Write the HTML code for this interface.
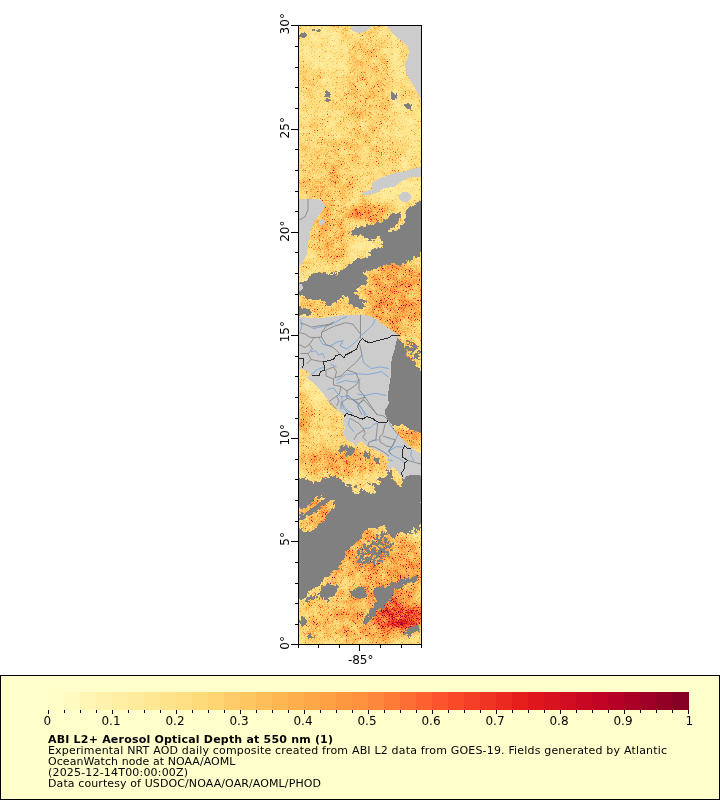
<!DOCTYPE html>
<html lang="en"><head><meta charset="utf-8"><title>ABI L2+ Aerosol Optical Depth at 550 nm</title>
<style>
html,body{margin:0;padding:0;background:#fff;}
body{width:720px;height:800px;overflow:hidden;position:relative;}
svg{position:absolute;left:0;top:0;display:block;}
text{font-family:"DejaVu Sans","Liberation Sans",sans-serif;fill:#000;}
.ax{font-size:12px;}
.lg{font-size:11px;}
.b{font-weight:bold;}
</style></head><body>
<svg width="720" height="800" viewBox="0 0 720 800">
<defs>
<clipPath id="mapclip"><rect x="299" y="26" width="122" height="618"/></clipPath>
<filter id="blur" filterUnits="userSpaceOnUse" x="280" y="10" width="160" height="650" color-interpolation-filters="sRGB"><feGaussianBlur stdDeviation="4"/></filter>
<filter id="cm" filterUnits="userSpaceOnUse" x="296" y="22" width="128" height="626" color-interpolation-filters="sRGB">
<feTurbulence type="fractalNoise" baseFrequency="1.37 1.43" numOctaves="1" seed="3"/>
<feColorMatrix type="matrix" values="1 0 0 0 0  1 0 0 0 0  1 0 0 0 0  0 0 0 0 1"/>
<feComponentTransfer result="mf"><feFuncR type="table" tableValues="0.200 0.200 0.200 0.200 0.200 0.200 0.200 0.210 0.225 0.237 0.250 0.270 0.305 0.362 0.475 0.650 0.800 0.850 0.850 0.850 0.850"/><feFuncG type="table" tableValues="0.200 0.200 0.200 0.200 0.200 0.200 0.200 0.210 0.225 0.237 0.250 0.270 0.305 0.362 0.475 0.650 0.800 0.850 0.850 0.850 0.850"/><feFuncB type="table" tableValues="0.200 0.200 0.200 0.200 0.200 0.200 0.200 0.210 0.225 0.237 0.250 0.270 0.305 0.362 0.475 0.650 0.800 0.850 0.850 0.850 0.850"/></feComponentTransfer>
<feTurbulence type="fractalNoise" baseFrequency="0.1" numOctaves="3" seed="5"/>
<feColorMatrix type="matrix" values="0.5 0 0 0 0.25  0.5 0 0 0 0.25  0.5 0 0 0 0.25  0 0 0 0 1" result="mc"/>
<feComposite in="SourceGraphic" in2="mf" operator="arithmetic" k1="4" k2="0" k3="0" k4="0" result="v1"/>
<feComposite in="v1" in2="mc" operator="arithmetic" k1="2" k2="0" k3="0" k4="0" result="v2"/>
<feColorMatrix in="v2" type="matrix" values="1 0 0 0 0  1 0 0 0 0  1 0 0 0 0  0 0 0 0 1"/>
<feComponentTransfer><feFuncR type="table" tableValues="1.000 1.000 0.996 0.996 0.992 0.988 0.890 0.741 0.502"/><feFuncG type="table" tableValues="1.000 0.929 0.851 0.698 0.553 0.306 0.102 0.000 0.000"/><feFuncB type="table" tableValues="0.800 0.627 0.463 0.298 0.235 0.165 0.110 0.149 0.149"/></feComponentTransfer>
</filter>
<filter id="jag" filterUnits="userSpaceOnUse" x="290" y="16" width="140" height="640" color-interpolation-filters="sRGB">
<feTurbulence type="fractalNoise" baseFrequency="0.22" numOctaves="2" seed="8" result="t"/>
<feDisplacementMap in="SourceGraphic" in2="t" scale="7" xChannelSelector="R" yChannelSelector="G"/>
</filter>
<filter id="spk" filterUnits="userSpaceOnUse" x="290" y="16" width="140" height="640" color-interpolation-filters="sRGB">
<feGaussianBlur in="SourceAlpha" stdDeviation="3" result="m"/>
<feTurbulence type="fractalNoise" baseFrequency="0.33" numOctaves="2" seed="21"/>
<feColorMatrix type="matrix" values="0 0 0 0 0  0 0 0 0 0  0 0 0 0 0  1 0 0 0 0" result="n"/>
<feComposite in="m" in2="n" operator="arithmetic" k1="2" k2="0" k3="0" k4="0" result="p"/>
<feComponentTransfer in="p"><feFuncA type="discrete" tableValues="0 0 0 0 0 1 1 1 1 1"/></feComponentTransfer>
<feColorMatrix type="matrix" values="0 0 0 0 0.502  0 0 0 0 0.502  0 0 0 0 0.502  0 0 0 1 0"/>
</filter>
<filter id="spk2" filterUnits="userSpaceOnUse" x="290" y="16" width="140" height="640" color-interpolation-filters="sRGB">
<feGaussianBlur in="SourceAlpha" stdDeviation="1" result="m"/>
<feTurbulence type="fractalNoise" baseFrequency="0.33" numOctaves="2" seed="33"/>
<feColorMatrix type="matrix" values="0 0 0 0 0  0 0 0 0 0  0 0 0 0 0  1 0 0 0 0" result="n"/>
<feComposite in="m" in2="n" operator="arithmetic" k1="2" k2="0" k3="0" k4="0" result="p"/>
<feComponentTransfer in="p"><feFuncA type="discrete" tableValues="0 0 0 0 0 1 1 1 1 1"/></feComponentTransfer>
<feColorMatrix type="matrix" values="0 0 0 0 0.502  0 0 0 0 0.502  0 0 0 0 0.502  0 0 0 1 0"/>
</filter>
</defs>
<rect x="0" y="0" width="720" height="800" fill="#ffffff"/>

<g clip-path="url(#mapclip)">
<g filter="url(#cm)">
<rect x="290" y="20" width="140" height="630" fill="#363636"/>
<g filter="url(#blur)">
<ellipse cx="322" cy="58" rx="22" ry="34" fill="#292929"/>
<ellipse cx="367" cy="88" rx="24" ry="50" fill="#444444"/>
<ellipse cx="312" cy="80" rx="12" ry="14" fill="#404040"/>
<ellipse cx="408" cy="132" rx="14" ry="30" fill="#2b2b2b"/>
<ellipse cx="397" cy="62" rx="8" ry="26" fill="#292929"/>
<ellipse cx="350" cy="150" rx="55" ry="16" fill="#424242"/>
<ellipse cx="328" cy="183" rx="32" ry="17" fill="#494949"/>
<ellipse cx="395" cy="192" rx="28" ry="12" fill="#262626"/>
<ellipse cx="369" cy="213" rx="22" ry="9" fill="#6e6e6e"/>
<ellipse cx="330" cy="235" rx="18" ry="32" fill="#525252"/>
<ellipse cx="365" cy="249" rx="18" ry="10" fill="#2b2b2b"/>
<ellipse cx="318" cy="267" rx="20" ry="6" fill="#333333"/>
<ellipse cx="396" cy="295" rx="30" ry="40" fill="#616161"/>
<ellipse cx="330" cy="307" rx="34" ry="8" fill="#4a4a4a"/>
<ellipse cx="410" cy="352" rx="12" ry="16" fill="#474747"/>
<ellipse cx="318" cy="388" rx="14" ry="18" fill="#262626"/>
<ellipse cx="303" cy="420" rx="8" ry="26" fill="#575757"/>
<ellipse cx="330" cy="425" rx="12" ry="18" fill="#3b3b3b"/>
<ellipse cx="340" cy="462" rx="44" ry="14" fill="#5c5c5c"/>
<ellipse cx="406" cy="438" rx="16" ry="12" fill="#5c5c5c"/>
<ellipse cx="362" cy="484" rx="20" ry="7" fill="#333333"/>
<ellipse cx="318" cy="514" rx="20" ry="16" fill="#5c5c5c"/>
<ellipse cx="375" cy="570" rx="50" ry="40" fill="#616161"/>
<ellipse cx="348" cy="582" rx="18" ry="8" fill="#404040"/>
<ellipse cx="315" cy="618" rx="18" ry="26" fill="#4c4c4c"/>
<ellipse cx="352" cy="622" rx="22" ry="20" fill="#575757"/>
<ellipse cx="400" cy="616" rx="26" ry="16" fill="#9e9e9e"/>
<ellipse cx="380" cy="634" rx="16" ry="8" fill="#6b6b6b"/>
</g></g>
<g shape-rendering="crispEdges">
<g filter="url(#jag)">
<path d="M423 200 415.3 203.8 409 207.5 404 210 399 212 392.8 215 389 217 385 220 381.5 223 379 221 375 223 370 225 364 226 357.8 227.5 354 230 350 232.5 352.8 235 359 235.6 365 237 367.8 239.4 374 240 377 237 381 237.5 381.5 241 384 242.5 382 246 379 248 375 247.5 371.5 250 369 252.5 371.5 255 370 257.5 364 258 359 258 354 261 350 264 346 267.5 345 271 341.5 273 336 275 326 273 316 273 310 276 305 281 297 285 297 295 302 296 310 300 318 300 324 302 328 307 334 304 338 300 344 296 350 297 348 303 354 307 362 309 367 306 360 302 356 294 358 288 364 284 368 278 361.5 273 366.5 271 371.5 270 378 268 381.5 265 386.5 265 394 264 401.5 264 409 261 415 257.5 423 252ZM401.5 210.5 406 209.5 406 219 403 225 397 229.5 390 232.5 388.5 229.5 395 226 400 221Z" fill="#808080" fill-rule="evenodd"/>
<path d="M297 307 305 308 311 311 309 315 303 314 297 315Z" fill="#808080" fill-rule="evenodd"/>
<path d="M397 337 401 340 406 350 412 360 418 368 423 372 423 434 415 431 409 428.5 404 425 396.5 426 390 423 384 418.5 381 413 381 407.5 384 402 384 391 386 380 387 366.3 388 358 391 351 392 344.3 393 338Z" fill="#808080" fill-rule="evenodd"/>
<path d="M338 447 342 445 347 446.5 351 445 355 449 353 454 347 455 344 452 340 454Z" fill="#808080" fill-rule="evenodd"/>
<path d="M364 451 369 452 370 458 366 459 364 455Z" fill="#808080" fill-rule="evenodd"/>
<path d="M374 457 379 458 380 463 375 463.5Z" fill="#808080" fill-rule="evenodd"/>
<path d="M386 468 389 470 393 476 391 478 387 473Z" fill="#808080" fill-rule="evenodd"/>
<path d="M297 477 310 479 314 484 322 479 330 476 340 478 344 484 350 490 354 494 364 490 374 494 376 488 370 484 366 482 378 484 384 480 390 476 394 480 400 488 402 480 404 477 410 472 423 472 423 523 414 528 406 534 398 534 394 540 388 532 384 524 376 530 370 527 364 532 358 540 350 548 346 550 344 560 338 568 330 574 324 580 318 586 310 590 306 598 297 600ZM298.4 503.3 301.8 509.2 307.7 505.3 315.4 499.4 321.3 495.5 324.2 498.5 318.4 503.3 311.5 509.2 305.7 513 298.4 516.9ZM298.4 517.9 305.7 515 310.6 513 318.4 508.2 325.2 503.3 333.9 499.4 334.9 505.3 329 512.1 325.2 518.9 319.3 524.7 313.5 528.6 307.7 531.5 301.8 532.5 298.4 526.6Z" fill="#808080" fill-rule="evenodd"/>
<path d="M320 586 328 584 336 586 335 594 330 598 327 604 324 598 320 596Z" fill="#808080" fill-rule="evenodd"/>
<path d="M350 592 358 588 366 588 368 594 360 598 352 597Z" fill="#808080" fill-rule="evenodd"/>
<path d="M374 590 380 586 388 586 394 590 392 598 384 604 378 610 372 618 366 624 364 620 370 612 376 602Z" fill="#808080" fill-rule="evenodd"/>
<path d="M386 586 396 582 408 578 418 576 418 580 408 584 398 588 390 590Z" fill="#808080" fill-rule="evenodd"/>
<path d="M406 633 412 628 419 625 420 629 413 634 408 637Z" fill="#808080" fill-rule="evenodd"/>
<path d="M300 620 304 619 306 623 303 626 300 625Z" fill="#808080" fill-rule="evenodd"/>
<path d="M307 635 312 634 313 638 308 639Z" fill="#808080" fill-rule="evenodd"/>
<path d="M299 33 305 33 307 36 303 38 299 38Z" fill="#808080" fill-rule="evenodd"/>
<path d="M405 103 412 104 411 110 406 109Z" fill="#808080" fill-rule="evenodd"/>
</g>
<g filter="url(#spk)">
<ellipse cx="374" cy="552" rx="24" ry="15" transform="rotate(-30 374 552)" fill="#000" fill-opacity="0.56"/>
<ellipse cx="413" cy="350" rx="9" ry="15" transform="rotate(-35 413 350)" fill="#000" fill-opacity="0.55"/>
<ellipse cx="330" cy="560" rx="16" ry="6" transform="rotate(-50 330 560)" fill="#000" fill-opacity="0.52"/>
<ellipse cx="384" cy="604" rx="13" ry="7" transform="rotate(-40 384 604)" fill="#000" fill-opacity="0.52"/>
</g>
<g filter="url(#spk2)">
<ellipse cx="312" cy="512" rx="17" ry="3.5" transform="rotate(-33 312 512)" fill="#000" fill-opacity="0.62"/>
<ellipse cx="394" cy="96" rx="4" ry="7" transform="rotate(0 394 96)" fill="#000" fill-opacity="0.6"/>
<ellipse cx="328" cy="96" rx="4" ry="8" transform="rotate(0 328 96)" fill="#000" fill-opacity="0.6"/>
<ellipse cx="370" cy="615" rx="4" ry="12" transform="rotate(35 370 615)" fill="#000" fill-opacity="0.62"/>
<ellipse cx="410" cy="631" rx="9" ry="4" transform="rotate(-30 410 631)" fill="#000" fill-opacity="0.6"/>
<ellipse cx="345" cy="272" rx="20" ry="3.5" transform="rotate(-8 345 272)" fill="#000" fill-opacity="0.58"/>
<ellipse cx="316" cy="30" rx="7" ry="2" transform="rotate(10 316 30)" fill="#000" fill-opacity="0.7"/>
<ellipse cx="330" cy="592" rx="12" ry="5" transform="rotate(-35 330 592)" fill="#000" fill-opacity="0.55"/>
<ellipse cx="402" cy="582" rx="16" ry="3" transform="rotate(-22 402 582)" fill="#000" fill-opacity="0.64"/>
<ellipse cx="345" cy="486" rx="14" ry="3.5" transform="rotate(5 345 486)" fill="#000" fill-opacity="0.58"/>
<ellipse cx="385" cy="478" rx="10" ry="3.5" transform="rotate(-10 385 478)" fill="#000" fill-opacity="0.58"/>
<ellipse cx="302" cy="620" rx="4" ry="5" transform="rotate(0 302 620)" fill="#000" fill-opacity="0.6"/>
<ellipse cx="415" cy="530" rx="8" ry="4" transform="rotate(-30 415 530)" fill="#000" fill-opacity="0.56"/>
<ellipse cx="383" cy="534" rx="10" ry="3.5" transform="rotate(-20 383 534)" fill="#000" fill-opacity="0.58"/>
<ellipse cx="312" cy="598" rx="10" ry="4" transform="rotate(-30 312 598)" fill="#000" fill-opacity="0.55"/>
<ellipse cx="360" cy="300" rx="10" ry="4" transform="rotate(20 360 300)" fill="#000" fill-opacity="0.55"/>
<ellipse cx="392" cy="236" rx="6" ry="3" transform="rotate(-30 392 236)" fill="#000" fill-opacity="0.56"/>
</g>
<polygon points="386,26 390,30 394,35 399,39 403,43 407,45 409,50 408,58 405,63 406,72 410,80 415,88 418,94 421,99 423,99 423,24" fill="#cccccc"/>
<polygon points="350,24 352,31 358,33 364,32.4 369,29 374,24" fill="#cccccc"/>
<polygon points="423,166 412,169 402,172 394,173 386,176 378,179 372,183 372,189 363,192 362,195 370,195 378,192 384,188 394,187 402,181 410,177 423,177" fill="#cccccc"/>
<polygon points="297,199 316,199 322,201 325,206 320,214 314,222 310,232 308,244 307,254 302,264 297,268" fill="#cccccc"/>
<polygon points="320,220 324,219 325,223 321,226 319,224" fill="#cccccc"/>
<polygon points="297,284 302,284 303,288 300,291 297,291" fill="#cccccc"/>
<polygon points="297,316 310,318 320,318 330,317 342,315 360,314.5 370,316 376,319 382,324 388,328 394,332 399.5,335.5 398,337 395.7,343 395,349 392,358 390.5,367 390.5,377.5 389,388 387.7,396 389,403.5 385.2,409.7 385.2,414.7 387.7,419.7 391.5,424.7 394,429.7 397.7,434.7 402.7,439.7 407.7,444.7 412.7,448.5 416.5,451 423,455 423,476 414,474.7 406.5,476 404,479.7 402,477.2 399,473.5 396.5,469.7 392.7,467.2 389,469.7 386.5,466 389,462.2 387.7,458.5 384,454.7 377.7,451 371.5,448.5 366.5,446 362,441 359,442.2 356.5,446 352.7,443.5 346.5,439.7 342.7,433.5 345.2,427.2 342.7,421 344.6,416 340.2,412.2 334,407.2 330.5,403 324.5,395.5 318.5,388 312.5,382 306.5,377.5 310,374.5 305,370 297,368" fill="#cccccc"/>
<ellipse cx="405" cy="197" rx="6" ry="5" fill="#cccccc"/>
<g fill="none" stroke-width="0.8" stroke-linejoin="round">
<polyline points="300.5,319 302,325 300.5,331" stroke="#6fa0d8"/>
<polyline points="312.5,328.7 323,326.5 332,324.2 341,319 347,316.7" stroke="#6fa0d8"/>
<polyline points="318.5,337 323,344.5 330.5,346 336.5,342.2 343.2,340.7 340.2,346 347,349 356,341.5 360.5,336.2 368,329.5 372.5,325 375.5,319" stroke="#6fa0d8"/>
<polyline points="311,352 315.5,350.5 318.5,355 323,353.5 324.5,358" stroke="#6fa0d8"/>
<polyline points="362,355 363.5,362.5 371,368.5 380,367 389,368.5" stroke="#6fa0d8"/>
<polyline points="336.5,380.5 345.5,374.5 356,373.7 366.5,374.5 375.5,373 381.5,371.5 389,377.5" stroke="#6fa0d8"/>
<polyline points="336.5,383.5 345.5,380.5 354.5,382 360.5,379" stroke="#6fa0d8"/>
<polyline points="327.5,389.5 333.5,388 338,394 341,397 348.5,395.5 356,403 362,409 366.5,415" stroke="#6fa0d8"/>
<polyline points="357.5,394 365,395.5 375.5,393.2 386,395.5" stroke="#6fa0d8"/>
<polyline points="341,401.5 344,409 348.5,413.5" stroke="#6fa0d8"/>
<polyline points="311,374.5 317,370 323.7,367" stroke="#6fa0d8"/>
<polyline points="330.5,364 336.5,367" stroke="#6fa0d8"/>
<polyline points="300.5,323.5 305,324.2 311,327.2 320,325.7 330.5,324.2 333.5,322" stroke="#7d7d7d"/>
<polyline points="333.5,322 326,326.5 321.5,332.5 321.5,337 314,337.7 309.5,344.5 312.5,349 308,353.5 311,359.5 306.5,364" stroke="#7d7d7d"/>
<polyline points="321.5,332.5 333.5,326.5 345.5,322.7 353,324.2 360.5,334" stroke="#7d7d7d"/>
<polyline points="321.5,337 326,344.5 333.5,347.5 339.5,353.5" stroke="#7d7d7d"/>
<polyline points="299,332.5 305,334 309.5,337 314,337.7" stroke="#7d7d7d"/>
<polyline points="299,344.5 305,347.5 309.5,344.5" stroke="#7d7d7d"/>
<polyline points="300.5,353.5 308,353.5" stroke="#7d7d7d"/>
<polyline points="311,359.5 318.5,361 323.7,361.7" stroke="#7d7d7d"/>
<polyline points="360.5,314.5 360.5,338.5" stroke="#7d7d7d"/>
<polyline points="326,370 333.5,367 336.5,371.5 335,377.5 341,376 347,370 356,362.5 362,355 359.7,344.5" stroke="#7d7d7d"/>
<polyline points="326,370 326,376 333.5,379 335,377.5" stroke="#7d7d7d"/>
<polyline points="333.5,379 333.5,385 341,386.5 347,391 356,385 359,380.5 356,373 347,370" stroke="#7d7d7d"/>
<polyline points="341,386.5 339.5,394 329,401.5 336.5,409" stroke="#7d7d7d"/>
<polyline points="359,380.5 359,389.5 365,397 371,406 377,415" stroke="#7d7d7d"/>
<polyline points="347,391 347,398.5 341,403 341,409" stroke="#7d7d7d"/>
<polyline points="365,397 357.5,406 362,415" stroke="#7d7d7d"/>
<polyline points="347,398.5 356,400 365,397" stroke="#7d7d7d"/>
<polyline points="399.5,335.5 392,335.5 389,337.7 383,339.2 377,340.7 369.5,343 365,340.7 362.7,338.5 359.7,341.5 358.2,344.5 356.7,349 351.5,352 345.5,355 344,358 340.2,354.2 335.7,355.7 333.5,359.5 323.7,361.7 324.5,370 320.7,371.5 319.2,375.2 311.7,376" stroke="#2a2a2a" stroke-width="1"/>
<polyline points="298.2,358.7 303.5,358.7 303.5,365.5 302,367.7" stroke="#2a2a2a" stroke-width="1"/>
<polyline points="341.5,396 342.8,404.8 347.8,411 352.8,413.5" stroke="#6fa0d8"/>
<polyline points="347.8,396 355.2,401 361.5,407.2 364,413.5 365.2,416" stroke="#6fa0d8"/>
<polyline points="349.6,418.5 348.4,424.8 354,432.2" stroke="#6fa0d8"/>
<polyline points="362.8,428.5 370.2,427.9 374,424.1 377.8,423.5" stroke="#6fa0d8"/>
<polyline points="389,422.9 392.8,428.5 397.8,434.8 395.2,441 392.8,446 387.8,451 391.5,454.8 399,458.5 404,462.2" stroke="#6fa0d8"/>
<polyline points="389,451 396.5,446.6 402.8,447.2" stroke="#6fa0d8"/>
<polyline points="411.5,449.8 410.9,456 414,461" stroke="#6fa0d8"/>
<polyline points="371.5,440.4 379,439.8" stroke="#6fa0d8"/>
<polyline points="387.8,459.8 392.8,461" stroke="#6fa0d8"/>
<polyline points="350.2,418.5 359,423.5 364,429.8 365.2,433.5 362.8,437.2 366.5,441" stroke="#7d7d7d"/>
<polyline points="364,429.8 356.5,434.8 354,439.8" stroke="#7d7d7d"/>
<polyline points="377.8,423.5 376.5,433.5 375.9,439.8 369,442.2 367.8,446 375.2,447.2 384,452.2 389,456" stroke="#7d7d7d"/>
<polyline points="385.2,423.5 382.8,433.5 379.6,437.2 380.2,442.2 386.5,446 391.5,447.2 395.2,439.8 390.2,438.5 382.8,436" stroke="#7d7d7d"/>
<polyline points="391.5,447.2 389,451 391.5,454.8" stroke="#7d7d7d"/>
<polyline points="336.5,396 339,401 336.5,406" stroke="#7d7d7d"/>
<polyline points="364,399.8 359,403.5 352.8,399.8" stroke="#7d7d7d"/>
<polyline points="364,399.8 371.5,408.5 377.8,414.8 384,416 387.8,419.8" stroke="#7d7d7d"/>
<polyline points="407.8,460.4 414,462.2 421.5,464.1" stroke="#7d7d7d"/>
<polyline points="344,416.6 346.5,413.5 352.8,415.4 359,417.9 362.8,419.1 366.5,416.6 372.8,418.5 376.5,421.6 381.5,422.9 386.5,422.9 387.8,419.8" stroke="#2a2a2a" stroke-width="1"/>
<polyline points="411.5,447.9 407.8,448.5 404.6,446 402.8,449.8 402.8,457.2 407.8,460.4 404,463.5 404.6,468.5 401.5,472.9 402.8,477.2" stroke="#2a2a2a" stroke-width="1"/>
<polyline points="308,199 308,210 305,217 299,220" stroke="#7d7d7d"/>
</g>
</g>
</g>
<g stroke="#000" stroke-width="1" fill="none" shape-rendering="crispEdges">
<rect x="298.5" y="25.5" width="123" height="619"/>
<line x1="291" y1="644.5" x2="298" y2="644.5"/>
<line x1="295" y1="624.5" x2="298" y2="624.5"/>
<line x1="295" y1="603.5" x2="298" y2="603.5"/>
<line x1="295" y1="583.5" x2="298" y2="583.5"/>
<line x1="295" y1="562.5" x2="298" y2="562.5"/>
<line x1="291" y1="541.5" x2="298" y2="541.5"/>
<line x1="295" y1="521.5" x2="298" y2="521.5"/>
<line x1="295" y1="500.5" x2="298" y2="500.5"/>
<line x1="295" y1="479.5" x2="298" y2="479.5"/>
<line x1="295" y1="459.5" x2="298" y2="459.5"/>
<line x1="291" y1="438.5" x2="298" y2="438.5"/>
<line x1="295" y1="418.5" x2="298" y2="418.5"/>
<line x1="295" y1="397.5" x2="298" y2="397.5"/>
<line x1="295" y1="376.5" x2="298" y2="376.5"/>
<line x1="295" y1="356.5" x2="298" y2="356.5"/>
<line x1="291" y1="335.5" x2="298" y2="335.5"/>
<line x1="295" y1="314.5" x2="298" y2="314.5"/>
<line x1="295" y1="294.5" x2="298" y2="294.5"/>
<line x1="295" y1="273.5" x2="298" y2="273.5"/>
<line x1="295" y1="252.5" x2="298" y2="252.5"/>
<line x1="291" y1="232.5" x2="298" y2="232.5"/>
<line x1="295" y1="211.5" x2="298" y2="211.5"/>
<line x1="295" y1="191.5" x2="298" y2="191.5"/>
<line x1="295" y1="170.5" x2="298" y2="170.5"/>
<line x1="295" y1="149.5" x2="298" y2="149.5"/>
<line x1="291" y1="129.5" x2="298" y2="129.5"/>
<line x1="295" y1="108.5" x2="298" y2="108.5"/>
<line x1="295" y1="87.5" x2="298" y2="87.5"/>
<line x1="295" y1="67.5" x2="298" y2="67.5"/>
<line x1="295" y1="46.5" x2="298" y2="46.5"/>
<line x1="291" y1="25.5" x2="298" y2="25.5"/>
<line x1="298.5" y1="645" x2="298.5" y2="648"/>
<line x1="318.5" y1="645" x2="318.5" y2="648"/>
<line x1="339.5" y1="645" x2="339.5" y2="648"/>
<line x1="359.5" y1="645" x2="359.5" y2="651"/>
<line x1="380.5" y1="645" x2="380.5" y2="648"/>
<line x1="401.5" y1="645" x2="401.5" y2="648"/>
<line x1="421.5" y1="645" x2="421.5" y2="648"/>
</g>
<text class="ax" transform="translate(289,636.1) rotate(-90)" text-anchor="end">0°</text>
<text class="ax" transform="translate(289,532.1) rotate(-90)" text-anchor="end">5°</text>
<text class="ax" transform="translate(289,424.1) rotate(-90)" text-anchor="end">10°</text>
<text class="ax" transform="translate(289,321) rotate(-90)" text-anchor="end">15°</text>
<text class="ax" transform="translate(289,220.5) rotate(-90)" text-anchor="end">20°</text>
<text class="ax" transform="translate(289,117.1) rotate(-90)" text-anchor="end">25°</text>
<text class="ax" transform="translate(289,13.1) rotate(-90)" text-anchor="end">30°</text>
<text class="ax" x="360.7" y="664" text-anchor="middle">-85°</text>
<rect x="0.5" y="675.5" width="719" height="124" fill="#ffffcc" stroke="#000" stroke-width="1" shape-rendering="crispEdges"/>
<g shape-rendering="crispEdges">
<rect x="48" y="692" width="16" height="18" fill="#fffdc8"/>
<rect x="64" y="692" width="16" height="18" fill="#fffabf"/>
<rect x="80" y="692" width="16" height="18" fill="#fff6b6"/>
<rect x="96" y="692" width="16" height="18" fill="#fff2ad"/>
<rect x="112" y="692" width="16" height="18" fill="#ffefa4"/>
<rect x="128" y="692" width="16" height="18" fill="#ffeb9c"/>
<rect x="144" y="692" width="16" height="18" fill="#ffe793"/>
<rect x="160" y="692" width="16" height="18" fill="#fee38b"/>
<rect x="176" y="692" width="16" height="18" fill="#fedf83"/>
<rect x="192" y="692" width="16" height="18" fill="#fedb7a"/>
<rect x="208" y="692" width="16" height="18" fill="#fed572"/>
<rect x="224" y="692" width="16" height="18" fill="#fecd69"/>
<rect x="240" y="692" width="16" height="18" fill="#fec661"/>
<rect x="256" y="692" width="16" height="18" fill="#febe59"/>
<rect x="272" y="692" width="16" height="18" fill="#feb650"/>
<rect x="288" y="692" width="16" height="18" fill="#feae4a"/>
<rect x="304" y="692" width="16" height="18" fill="#fea747"/>
<rect x="320" y="692" width="16" height="18" fill="#fea044"/>
<rect x="336" y="692" width="16" height="18" fill="#fd9841"/>
<rect x="352" y="692" width="16" height="18" fill="#fd913e"/>
<rect x="368" y="692" width="16" height="18" fill="#fd873a"/>
<rect x="384" y="692" width="16" height="18" fill="#fd7a37"/>
<rect x="400" y="692" width="16" height="18" fill="#fc6e33"/>
<rect x="416" y="692" width="16" height="18" fill="#fc612f"/>
<rect x="432" y="692" width="16" height="18" fill="#fc542c"/>
<rect x="448" y="692" width="16" height="18" fill="#fa4929"/>
<rect x="464" y="692" width="16" height="18" fill="#f43e26"/>
<rect x="480" y="692" width="16" height="18" fill="#f03423"/>
<rect x="496" y="692" width="16" height="18" fill="#ea2a20"/>
<rect x="512" y="692" width="16" height="18" fill="#e61f1d"/>
<rect x="528" y="692" width="16" height="18" fill="#df171d"/>
<rect x="544" y="692" width="16" height="18" fill="#d8121f"/>
<rect x="560" y="692" width="16" height="18" fill="#d00d21"/>
<rect x="576" y="692" width="16" height="18" fill="#c80823"/>
<rect x="592" y="692" width="16" height="18" fill="#c10325"/>
<rect x="608" y="692" width="16" height="18" fill="#b70026"/>
<rect x="624" y="692" width="16" height="18" fill="#ab0026"/>
<rect x="640" y="692" width="16" height="18" fill="#9e0026"/>
<rect x="656" y="692" width="16" height="18" fill="#920026"/>
<rect x="672" y="692" width="17" height="18" fill="#860026"/>
</g>
<g stroke="#000" stroke-width="1" shape-rendering="crispEdges">
<line x1="48.5" y1="710" x2="48.5" y2="714"/>
<line x1="64.5" y1="710" x2="64.5" y2="713"/>
<line x1="80.5" y1="710" x2="80.5" y2="713"/>
<line x1="96.5" y1="710" x2="96.5" y2="713"/>
<line x1="112.5" y1="710" x2="112.5" y2="714"/>
<line x1="128.5" y1="710" x2="128.5" y2="713"/>
<line x1="144.5" y1="710" x2="144.5" y2="713"/>
<line x1="160.5" y1="710" x2="160.5" y2="713"/>
<line x1="176.5" y1="710" x2="176.5" y2="714"/>
<line x1="192.5" y1="710" x2="192.5" y2="713"/>
<line x1="208.5" y1="710" x2="208.5" y2="713"/>
<line x1="224.5" y1="710" x2="224.5" y2="713"/>
<line x1="240.5" y1="710" x2="240.5" y2="714"/>
<line x1="256.5" y1="710" x2="256.5" y2="713"/>
<line x1="272.5" y1="710" x2="272.5" y2="713"/>
<line x1="288.5" y1="710" x2="288.5" y2="713"/>
<line x1="304.5" y1="710" x2="304.5" y2="714"/>
<line x1="320.5" y1="710" x2="320.5" y2="713"/>
<line x1="336.5" y1="710" x2="336.5" y2="713"/>
<line x1="352.5" y1="710" x2="352.5" y2="713"/>
<line x1="368.5" y1="710" x2="368.5" y2="714"/>
<line x1="384.5" y1="710" x2="384.5" y2="713"/>
<line x1="400.5" y1="710" x2="400.5" y2="713"/>
<line x1="416.5" y1="710" x2="416.5" y2="713"/>
<line x1="432.5" y1="710" x2="432.5" y2="714"/>
<line x1="448.5" y1="710" x2="448.5" y2="713"/>
<line x1="464.5" y1="710" x2="464.5" y2="713"/>
<line x1="480.5" y1="710" x2="480.5" y2="713"/>
<line x1="496.5" y1="710" x2="496.5" y2="714"/>
<line x1="512.5" y1="710" x2="512.5" y2="713"/>
<line x1="528.5" y1="710" x2="528.5" y2="713"/>
<line x1="544.5" y1="710" x2="544.5" y2="713"/>
<line x1="560.5" y1="710" x2="560.5" y2="714"/>
<line x1="576.5" y1="710" x2="576.5" y2="713"/>
<line x1="592.5" y1="710" x2="592.5" y2="713"/>
<line x1="608.5" y1="710" x2="608.5" y2="713"/>
<line x1="624.5" y1="710" x2="624.5" y2="714"/>
<line x1="640.5" y1="710" x2="640.5" y2="713"/>
<line x1="656.5" y1="710" x2="656.5" y2="713"/>
<line x1="672.5" y1="710" x2="672.5" y2="713"/>
<line x1="688.5" y1="710" x2="688.5" y2="714"/>
</g>
<text class="ax" x="47.3" y="725" text-anchor="middle">0</text>
<text class="ax" x="111" y="725" text-anchor="middle">0.1</text>
<text class="ax" x="175" y="725" text-anchor="middle">0.2</text>
<text class="ax" x="239" y="725" text-anchor="middle">0.3</text>
<text class="ax" x="303" y="725" text-anchor="middle">0.4</text>
<text class="ax" x="367" y="725" text-anchor="middle">0.5</text>
<text class="ax" x="431" y="725" text-anchor="middle">0.6</text>
<text class="ax" x="495" y="725" text-anchor="middle">0.7</text>
<text class="ax" x="559" y="725" text-anchor="middle">0.8</text>
<text class="ax" x="623" y="725" text-anchor="middle">0.9</text>
<text class="ax" x="689.3" y="725" text-anchor="middle">1</text>
<text class="lg b" x="48" y="743" textLength="285" lengthAdjust="spacing">ABI L2+ Aerosol Optical Depth at 550 nm (1)</text>
<text class="lg" x="48" y="754" textLength="619" lengthAdjust="spacing">Experimental NRT AOD daily composite created from ABI L2 data from GOES-19. Fields generated by Atlantic</text>
<text class="lg" x="48" y="765" textLength="187.5" lengthAdjust="spacing">OceanWatch node at NOAA/AOML</text>
<text class="lg" x="48" y="776" textLength="140" lengthAdjust="spacing">(2025-12-14T00:00:00Z)</text>
<text class="lg" x="48" y="787" textLength="273" lengthAdjust="spacing">Data courtesy of USDOC/NOAA/OAR/AOML/PHOD</text>
</svg></body></html>
